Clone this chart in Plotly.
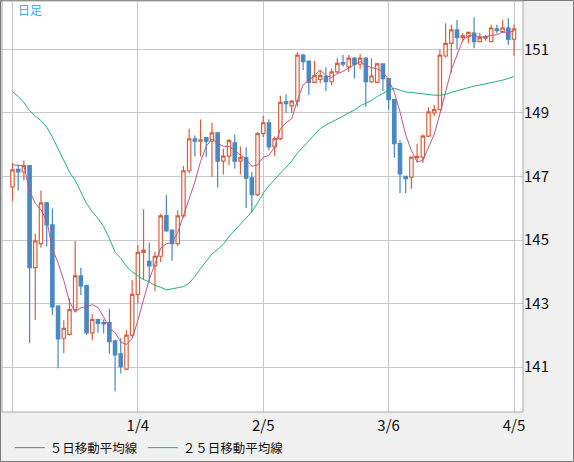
import plotly.graph_objects as go
import pandas as pd

# 日足 2023/12/04 - 2024/04/05 (1/1 は休場でなし)
dates = [d.strftime("%Y-%m-%d") for d in pd.bdate_range("2023-12-04", "2024-04-05")
         if d != pd.Timestamp("2024-01-01")]

opens = [146.67, 147.22, 147.14, 147.34, 144.13, 144.89, 146.17, 145.48, 142.92, 141.91,
         142.03, 142.81, 143.87, 143.57, 142.08, 142.50, 142.40, 142.40, 141.83, 141.42,
         140.94, 142.01, 143.29, 144.61, 144.33, 144.19, 144.49, 145.77, 145.31, 144.89,
         145.76, 147.18, 148.18, 148.11, 148.22, 148.11, 148.37, 147.48, 147.64, 148.06,
         147.48, 147.59, 146.96, 146.43, 148.35, 148.69, 147.93, 148.19, 149.35, 149.22,
         149.37, 150.82, 150.63, 149.96, 150.05, 150.14, 149.98, 150.29, 150.58, 150.45,
         150.72, 150.53, 150.72, 149.98, 149.96, 150.54, 150.08, 149.42, 148.03, 147.00,
         146.98, 147.59, 147.61, 148.27, 149.00, 149.10, 150.79, 151.19, 151.61, 151.37,
         151.40, 151.51, 151.24, 151.35, 151.24, 151.64, 151.56, 151.67, 151.32]
highs = [147.42, 147.38, 147.50, 147.36, 145.20, 146.56, 146.20, 145.99, 142.95, 142.48,
         143.16, 144.97, 144.13, 143.60, 142.67, 142.52, 142.50, 142.84, 141.86, 141.91,
         142.17, 143.74, 144.84, 145.97, 144.92, 144.63, 145.83, 146.41, 145.33, 145.94,
         147.33, 148.50, 148.29, 148.79, 148.24, 148.69, 148.40, 147.87, 148.18, 148.32,
         147.94, 147.92, 147.14, 148.40, 148.90, 148.80, 148.26, 149.54, 149.59, 149.40,
         150.91, 150.85, 150.65, 150.64, 150.35, 150.43, 150.40, 150.72, 150.82, 150.82,
         150.75, 150.85, 150.75, 150.72, 150.58, 150.56, 150.10, 149.44, 148.14, 147.02,
         147.63, 148.03, 148.33, 149.18, 149.25, 150.98, 151.82, 151.77, 151.93, 151.51,
         151.56, 152.01, 151.51, 151.45, 151.77, 151.77, 151.93, 151.98, 151.77]
lows = [146.23, 146.56, 146.87, 141.75, 142.49, 144.76, 144.80, 142.64, 140.97, 141.44,
        142.00, 142.72, 143.26, 142.01, 141.85, 142.08, 142.06, 141.42, 140.24, 140.81,
        140.90, 141.95, 143.00, 143.74, 143.69, 143.40, 144.31, 145.26, 144.35, 144.81,
        145.70, 147.10, 147.63, 147.63, 147.61, 146.98, 146.65, 147.06, 147.35, 147.24,
        147.06, 146.01, 145.88, 146.38, 148.24, 147.82, 147.64, 148.14, 149.00, 149.00,
        149.19, 150.35, 149.56, 149.93, 149.93, 149.69, 149.87, 150.24, 150.45, 150.29,
        150.08, 150.37, 149.19, 149.93, 149.93, 149.69, 149.11, 147.59, 146.47, 146.47,
        146.61, 147.45, 147.42, 148.24, 148.90, 149.08, 150.74, 150.27, 151.00, 151.22,
        151.19, 151.03, 151.22, 151.27, 151.22, 151.50, 151.51, 151.14, 150.80]
closes = [147.21, 147.14, 147.34, 144.13, 144.97, 146.17, 145.48, 142.90, 141.89, 142.22,
          142.81, 143.87, 143.56, 142.08, 142.50, 142.38, 142.36, 141.80, 141.39, 141.02,
          142.01, 143.29, 144.61, 144.68, 144.19, 144.49, 145.76, 145.29, 144.89, 145.76,
          147.18, 148.18, 148.11, 148.15, 148.11, 148.37, 147.48, 147.64, 148.13, 147.48,
          147.59, 146.95, 146.43, 148.35, 148.69, 147.93, 148.19, 149.33, 149.29, 149.37,
          150.82, 150.61, 149.96, 150.17, 150.17, 149.98, 150.29, 150.56, 150.53, 150.72,
          150.53, 150.72, 149.98, 150.16, 150.54, 150.08, 149.42, 148.03, 147.08, 146.93,
          147.61, 147.63, 148.27, 149.03, 149.10, 150.82, 151.19, 151.61, 151.37, 151.43,
          151.53, 151.24, 151.37, 151.40, 151.67, 151.59, 151.67, 151.32, 151.64]

# 表示期間より前の値が要る先頭部分は図から読んだ値
ma5_head = [147.37, 147.35, 147.33, 146.55]
ma25_head = [149.67, 149.52, 149.33, 149.07, 148.90, 148.76, 148.55, 148.24, 147.87, 147.51,
             147.14, 146.88, 146.52, 146.15, 145.89, 145.68, 145.42, 145.05, 144.62, 144.42,
             144.17, 144.00, 143.88, 143.76]

s = pd.Series(closes)
ma5 = s.rolling(5).mean()
ma5.iloc[:len(ma5_head)] = ma5_head
ma25 = s.rolling(25).mean()
ma25.iloc[:len(ma25_head)] = ma25_head

tick_idx = [0, 22, 44, 66, 88]
tick_vals = [dates[i] for i in tick_idx]
tick_text = [""] + [f"{int(dates[i][5:7])}/{int(dates[i][8:10])}" for i in tick_idx[1:]]

up_col = "#d9603b"
down_col = "#4a88c2"
font_jp = "Noto Sans CJK JP"

fig = go.Figure()
fig.add_trace(go.Candlestick(
    x=dates, open=opens, high=highs, low=lows, close=closes,
    increasing=dict(line=dict(color=up_col, width=1.2), fillcolor="white"),
    decreasing=dict(line=dict(color=down_col, width=1.2), fillcolor=down_col),
    whiskerwidth=0, showlegend=False))
fig.add_trace(go.Scatter(x=dates, y=ma5, mode="lines", name="５日移動平均線",
                         line=dict(color="#c0528c", width=1)))
fig.add_trace(go.Scatter(x=dates, y=ma25, mode="lines", name="２５日移動平均線",
                         line=dict(color="#20b274", width=1)))

# 外枠
fig.add_shape(type="rect", xref="paper", yref="paper",
              x0=-1.5 / 521, x1=1 + 50.5 / 521, y0=-49.5 / 411, y1=1 + 0.5 / 411,
              line=dict(color="#7a7a7a", width=1), layer="above")
fig.add_shape(type="rect", xref="paper", yref="paper", x0=0, x1=1, y0=0, y1=1,
              line=dict(color="#a8a8a8", width=1), layer="above")

fig.add_annotation(text="日足", xref="paper", yref="paper", x=14 / 521, y=1 - 9 / 411,
                   xanchor="left", yanchor="middle", showarrow=False,
                   font=dict(family=font_jp, size=12, color="#33aaee"))

fig.update_layout(
    width=574, height=462,
    margin=dict(l=2, r=51, t=1, b=50, autoexpand=False),
    paper_bgcolor="#f0f0f0", plot_bgcolor="white",
    font=dict(family=font_jp, size=14, color="#111111"),
    boxgap=0.15,
    showlegend=True,
    legend=dict(orientation="h", x=0.015, y=-36 / 411, xanchor="left", yanchor="middle",
                bgcolor="rgba(0,0,0,0)", font=dict(size=12.5), itemwidth=30),
    xaxis=dict(type="category", range=[-1.84, 89.58], tickvals=tick_vals, ticktext=tick_text,
               showgrid=True, gridcolor="#c8c8c8", gridwidth=1, ticks="",
               tickfont=dict(size=15), ticklabelstandoff=3,
               rangeslider=dict(visible=False), zeroline=False, showline=False,
               automargin=False),
    yaxis=dict(side="right", range=[139.59, 152.52], tickvals=[141, 143, 145, 147, 149, 151],
               showgrid=True, gridcolor="#c8c8c8", gridwidth=1, ticks="",
               tickfont=dict(size=15),
               zeroline=False, showline=False, automargin=False),
)

# ページ既定の余白をなくして左上に寄せる
fig.write_html("out.html", config={"displayModeBar": False},
               post_script="document.body.style.margin='0';")
